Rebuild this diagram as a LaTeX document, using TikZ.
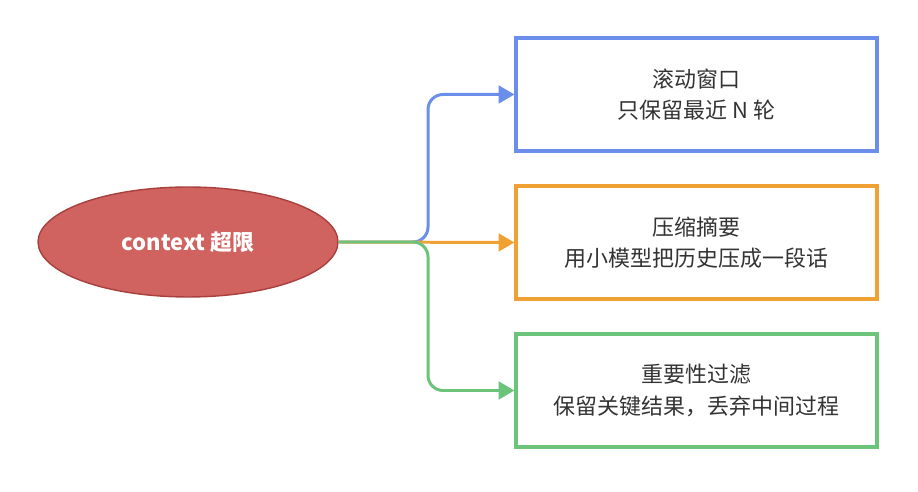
\documentclass[tikz,border=0pt]{standalone}
\usepackage{fontspec}
\setmainfont{Noto Sans CJK SC}
\usetikzlibrary{shapes.geometric,arrows.meta}
\definecolor{redfill}{HTML}{D0625F}
\definecolor{redline}{HTML}{A8403E}
\definecolor{blueline}{HTML}{6A8EEA}
\definecolor{orangeline}{HTML}{EFA233}
\definecolor{greenline}{HTML}{6CC47A}
\definecolor{txt}{HTML}{333333}
\tikzset{
  box/.style={draw,line width=1.8pt,fill=white,minimum width=7.22cm,minimum height=2.26cm,
    align=center,text=txt,font=\fontsize{12.5}{18}\selectfont},
  link/.style={line width=1.7pt,rounded corners=0.3cm,-{Triangle[length=9pt,width=10pt]}}
}
\begin{document}
\begin{tikzpicture}[x=0.02cm,y=-0.02cm]
  \useasboundingbox (0,0) rectangle (918,492);
  \node[ellipse,draw=redline,fill=redfill,line width=0.8pt,minimum width=6cm,minimum height=2.2cm,
    text=white,font=\bfseries\fontsize{12.5}{14}\selectfont] (src) at (188,242) {context 超限};
  \node[box,draw=blueline] (win) at (696.5,94.5) {滚动窗口\\只保留最近 N 轮};
  \node[box,draw=orangeline] (sum) at (696.5,242.5) {压缩摘要\\用小模型把历史压成一段话};
  \node[box,draw=greenline] (imp) at (696.5,390.5) {重要性过滤\\保留关键结果，丢弃中间过程};
  \draw[link,draw=blueline] (src.east) -| (428,94.5) -- (win.west);
  \draw[link,draw=orangeline] (src.east) -- (sum.west);
  \draw[link,draw=greenline] (src.east) -| (428,390.5) -- (imp.west);
\end{tikzpicture}
\end{document}
